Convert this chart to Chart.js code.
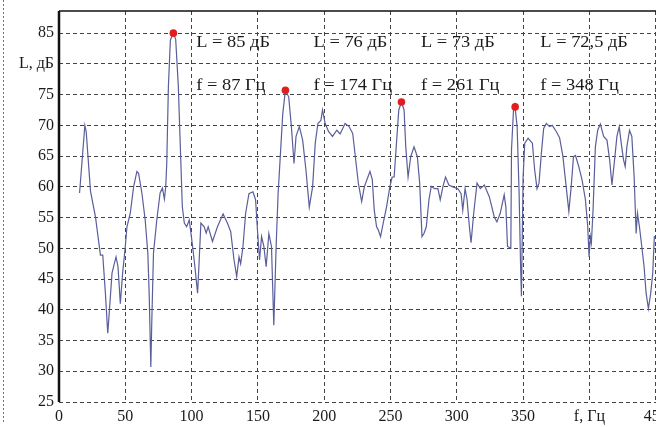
<!DOCTYPE html>
<html>
<head>
<meta charset="utf-8">
<script src="https://cdn.jsdelivr.net/npm/chart.js@4.4.0/dist/chart.umd.min.js"></script>
<style>
  html, body { margin: 0; padding: 0; background: #fff; overflow: hidden; }
  #wrap { width: 726px; height: 427px; }
</style>
</head>
<body>
<div id="wrap"><canvas id="spectrum" width="726" height="427"></canvas></div>
<script>
// spectrum
var freqHz = [15.5, 19.5, 20.5, 23.75, 27.5, 31.25, 33, 35, 36.75, 37.5, 40, 43, 44.5, 46.25, 48, 50, 51.25, 53.75, 56.25, 58.75,
  60, 62.5, 65, 67, 68, 69.25, 70, 71.25, 73.75, 76.25, 78, 79.5, 80.5, 81.25, 82.5, 84, 86.25, 88, 90, 91.25,
  93, 94.5, 96.25, 98.25, 100.75, 102.5, 104.5, 105.5, 107, 109.5, 111, 112.5, 115.75, 119.5, 123.75, 127, 129.5, 132, 134, 135.75,
  137, 138.75, 140.75, 143.25, 146.25, 148.25, 149.5, 151.25, 152.75, 154.5, 156.25, 158.25, 160.25, 162, 163.75, 165.25, 167, 168.75, 170.75, 173.25,
  175.25, 177.25, 178.75, 181.25, 183.75, 186.25, 188.75, 191.25, 193.25, 195.25, 197.5, 198.75, 200.75, 203.25, 206.25, 209.5, 212, 215.75, 218.75, 221.5,
  223.75, 225.75, 228.25, 230.25, 234.5, 236.25, 237.75, 239.5, 240.75, 242.5, 244.5, 247, 249.5, 251.25, 252.75, 254.5, 256.25, 258.25, 260.25, 261.5,
  263.25, 265.25, 267.75, 270.25, 272, 273.75, 275.25, 277, 279, 280.75, 283.25, 285.75, 287.5, 289.5, 291.5, 294, 297, 300.75, 303.25, 304.5,
  306.25, 307.75, 309.5, 310.75, 312.75, 315.25, 317.75, 320.75, 324.5, 328.25, 330.25, 332.75, 335.75, 337, 338.25, 340.75, 341.25, 342.75, 343.75, 345.5,
  347, 348, 348.75, 350, 351.25, 353.75, 357, 358.75, 360.5, 362, 363.75, 365.5, 367.5, 370, 372, 375, 377.5, 380, 382.5, 384.5,
  386.25, 388, 389.5, 392, 394.5, 397, 398.75, 399.75, 400.75, 401.5, 402.75, 404.5, 406.25, 408.25, 410.75, 413.25, 415.25, 417, 418.75, 420.75,
  422.5, 424, 425.75, 427, 428.25, 430.25, 432, 433.75, 435.25, 436.25, 437.75, 439.5, 441.25, 442.75, 444.5, 446.25, 447.75, 449];
var levelDb = [59, 70, 69, 59.3, 55.1, 48.9, 48.9, 42.7, 36.2, 38.3, 46, 48.6, 47, 41, 46, 50.3, 53.5, 55.7, 60, 62.5,
  62.2, 59, 54.6, 49.2, 42.7, 30.7, 38.3, 49.2, 54.6, 59, 59.8, 58, 60, 63.8, 76.3, 83.9, 85, 84, 76.3, 68.1,
  56.8, 54.1, 53.5, 54.6, 50.3, 47, 42.7, 47, 54.1, 53.5, 52.5, 53.5, 51.1, 53.5, 55.6, 54.1, 52.7, 48.1, 45.4, 48.6,
  47.5, 50.3, 55.7, 58.9, 59.2, 57.9, 53.5, 48.1, 51.9, 50.3, 47, 52.4, 50.3, 37.5, 50.3, 58.9, 65.4, 71.9, 75.7, 74.6,
  69.8, 63.8, 68.2, 69.8, 67.6, 62.7, 56.7, 60, 67.1, 70.3, 70.8, 72.5, 70.3, 69, 68.2, 69.2, 68.6, 70.3, 69.8, 68.7,
  64.4, 60.6, 57.6, 60, 62.5, 61.2, 56.2, 53.5, 53, 51.9, 54.1, 56.7, 60, 61.6, 61.6, 67.1, 72.5, 73.8, 72.5, 66.5,
  61.6, 64.9, 66.5, 64.9, 60.6, 51.9, 52.4, 53.5, 57.9, 60.1, 59.7, 59.7, 57.9, 60, 61.6, 60.3, 60, 59.7, 58.9, 56.2,
  59.7, 57.9, 53.5, 50.9, 55.7, 60.6, 59.7, 60.3, 58.4, 55.1, 54.3, 55.7, 58.7, 56.7, 50.3, 50, 66, 72.5, 73.3, 69.8,
  58.9, 48.1, 42.2, 61.6, 67.1, 67.9, 67.1, 62.7, 59.7, 60.6, 65.4, 69.5, 70.3, 69.8, 70, 69, 68, 65, 60, 56,
  60, 64.9, 65.1, 63.3, 61.1, 57.9, 53.5, 48.6, 51.9, 50.9, 56.2, 66.5, 69.2, 70.2, 68.2, 67.6, 64.4, 60.3, 63.9, 68.2,
  69.8, 67.1, 64.4, 63.3, 66.5, 69.2, 68.2, 61.6, 52.4, 55.7, 53.5, 50.3, 47, 42.7, 40.2, 42.7, 45.9, 52];

// marked peaks
var peakFreq = [86.25, 170.75, 258.25, 344];
var peakLevel = [85, 75.7, 73.8, 73];
var peakLText = ["L = 85 дБ", "L = 76 дБ", "L = 73 дБ", "L = 72,5 дБ"];
var peakFText = ["f = 87 Гц", "f = 174 Гц", "f = 261 Гц", "f = 348 Гц"];

var xTicksLabel = {400: "f, Гц"};
var yTicksLabel = {80: "L, дБ"};

var serif = "'Liberation Serif', 'DejaVu Serif', serif";

// annotation text + frame lines
var extras = {
  id: "extras",
  afterDatasetsDraw: function (chart) {
    var ctx = chart.ctx, a = chart.chartArea;
    var xs = chart.scales.x, ys = chart.scales.y;
    var textX = [103.5, 192, 273, 363];
    ctx.save();
    ctx.fillStyle = "#1a1a1a";
    ctx.font = "16px " + serif;
    ctx.textBaseline = "middle";
    ctx.textAlign = "left";
    for (var i = 0; i < peakLText.length; i++) {
      var px = xs.getPixelForValue(textX[i]);
      [[peakLText[i], 83.5], [peakFText[i], 76.4]].forEach(function (t) {
        ctx.save();
        ctx.translate(px, ys.getPixelForValue(t[1]));
        ctx.scale(1.15, 1);
        ctx.fillText(t[0], 0, 0);
        ctx.restore();
      });
    }
    // frame: top and left solid
    ctx.strokeStyle = "#111";
    ctx.lineWidth = 1.5;
    ctx.beginPath();
    ctx.moveTo(a.left, a.top);
    ctx.lineTo(a.right, a.top);
    ctx.stroke();
    ctx.lineWidth = 2.5;
    ctx.beginPath();
    ctx.moveTo(a.left, a.top);
    ctx.lineTo(a.left, a.bottom);
    ctx.stroke();
    // dotted edge of the neighbouring figure
    ctx.strokeStyle = "#777";
    ctx.lineWidth = 1;
    ctx.setLineDash([2, 2]);
    ctx.beginPath();
    ctx.moveTo(3.5, 0);
    ctx.lineTo(3.5, 422);
    ctx.stroke();
    ctx.restore();
  }
};

new Chart(document.getElementById("spectrum"), {
  type: "line",
  data: {
    datasets: [{
      data: freqHz.map(function (f, i) { return {x: f, y: levelDb[i]}; }),
      borderColor: "#5a5e9a",
      borderWidth: 1.2,
      pointRadius: 0,
      tension: 0,
      order: 1
    }, {
      data: peakFreq.map(function (f, i) { return {x: f, y: peakLevel[i]}; }),
      showLine: false,
      pointRadius: 3.8,
      pointBackgroundColor: "#e01e1e",
      pointBorderWidth: 0,
      order: 0
    }]
  },
  options: {
    responsive: false,
    animation: false,
    layout: {padding: {top: 11, left: 0, right: 0, bottom: 0}},
    plugins: {legend: {display: false}, tooltip: {enabled: false}},
    scales: {
      x: {
        type: "linear",
        min: 0,
        max: 500,
        afterFit: function (s) {
          s.height = 25;
          s.paddingLeft = 0;
          s.paddingRight = 0;
        },
        grid: {color: "#444", lineWidth: 1, drawTicks: false},
        border: {display: false, dash: [4, 3]},
        ticks: {
          stepSize: 50,
          autoSkip: false,
          maxRotation: 0,
          padding: 5,
          color: "#1a1a1a",
          font: {family: serif, size: 16},
          callback: function (v) { return xTicksLabel[v] || v; }
        }
      },
      y: {
        min: 25,
        max: 88.6,
        afterFit: function (s) {
          s.width = 59;
          s.paddingTop = 0;
          s.paddingBottom = 0;
        },
        afterBuildTicks: function (s) {
          s.ticks = s.ticks.filter(function (t) { return t.value % 5 === 0; });
        },
        grid: {color: "#444", lineWidth: 1, drawTicks: false},
        border: {display: false, dash: [4, 3]},
        ticks: {
          stepSize: 5,
          padding: 5,
          color: "#1a1a1a",
          font: {family: serif, size: 16},
          callback: function (v) { return yTicksLabel[v] || v; }
        }
      }
    }
  },
  plugins: [extras]
});
</script>
</body>
</html>
